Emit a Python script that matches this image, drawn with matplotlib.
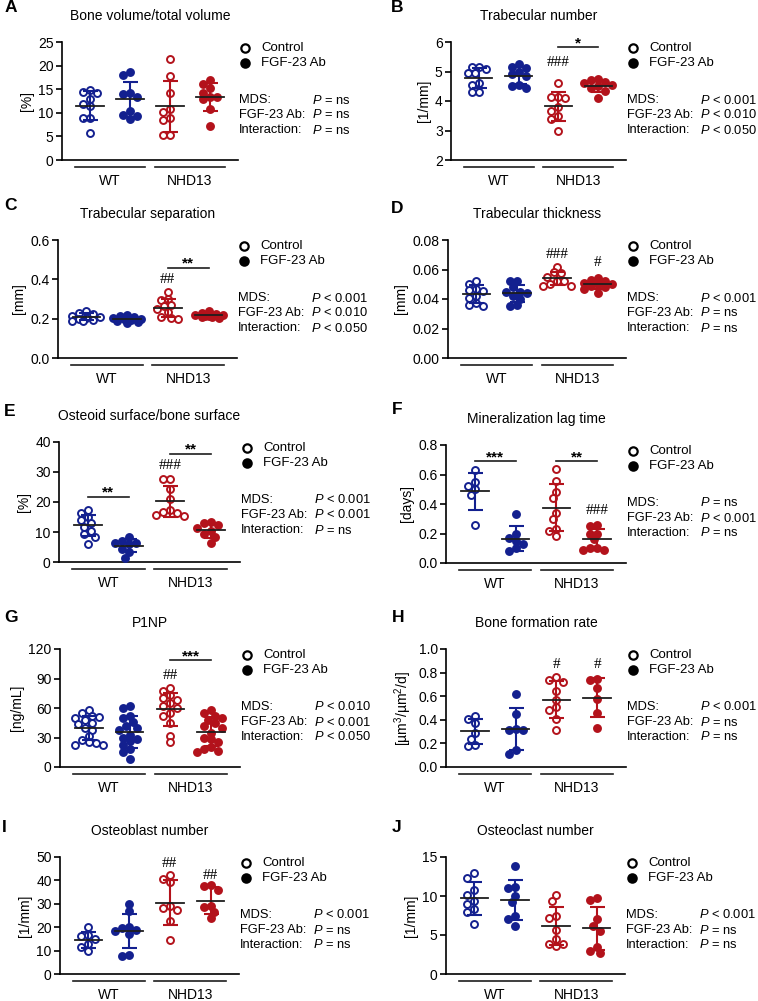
import numpy as np
import matplotlib.pyplot as plt

plt.rcParams['font.family'] = ['Liberation Sans', 'DejaVu Sans']
plt.rcParams['mathtext.fontset'] = 'custom'
plt.rcParams['mathtext.it'] = 'Liberation Sans:italic'
plt.rcParams['mathtext.rm'] = 'Liberation Sans'
plt.rcParams['font.size'] = 10

BLUE = '#13208f'
RED = '#b3121b'
DARK = '#1e1e1e'

groups = ['WT', 'NHD13']
legend_labels = ['Control', 'FGF-23 Ab']
stat_names = ['MDS:', 'FGF-23 Ab:', 'Interaction:']

# A  bone volume / total volume [%]
a_wt_ctrl = [14.3, 14.4, 14.8, 12.9, 11.8, 11.4, 9.0, 9.0, 5.8]
a_wt_ab = [18.1, 18.6, 14.0, 14.1, 13.4, 9.6, 8.6, 9.3, 10.3]
a_nhd_ctrl = [21.3, 17.8, 14.3, 10.2, 10.7, 9.0, 8.4, 5.2, 5.2]
a_nhd_ab = [16.2, 16.9, 15.2, 13.4, 13.3, 14.3, 12.9, 10.7, 7.2]
a_stats = ['= ns', '= ns', '= ns']

# B  trabecular number [1/mm]
b_wt_ctrl = [5.15, 5.1, 5.15, 4.95, 4.95, 4.6, 4.55, 4.3, 4.3]
b_wt_ab = [5.25, 5.15, 5.12, 5.0, 4.9, 4.85, 4.55, 4.5, 4.45]
b_nhd_ctrl = [4.62, 4.15, 4.15, 4.1, 3.8, 3.65, 3.5, 3.4, 3.0]
b_nhd_ab = [4.75, 4.72, 4.65, 4.6, 4.55, 4.5, 4.45, 4.35, 4.1]
b_stats = ['< 0.001', '< 0.010', '< 0.050']

# C  trabecular separation [mm]
c_wt_ctrl = [0.24, 0.23, 0.225, 0.215, 0.21, 0.205, 0.2, 0.195, 0.19, 0.19]
c_wt_ab = [0.22, 0.215, 0.21, 0.205, 0.2, 0.2, 0.195, 0.19, 0.185, 0.18]
c_nhd_ctrl = [0.335, 0.3, 0.295, 0.27, 0.265, 0.25, 0.235, 0.21, 0.205, 0.198]
c_nhd_ab = [0.24, 0.23, 0.225, 0.22, 0.22, 0.215, 0.215, 0.21, 0.21, 0.205]
c_stats = ['< 0.001', '< 0.010', '< 0.050']

# D  trabecular thickness [mm]
d_wt_ctrl = [0.052, 0.0505, 0.046, 0.047, 0.0455, 0.042, 0.0405, 0.037, 0.036, 0.035]
d_wt_ab = [0.052, 0.052, 0.048, 0.045, 0.045, 0.044, 0.042, 0.04, 0.036, 0.035]
d_nhd_ctrl = [0.062, 0.058, 0.0575, 0.055, 0.0525, 0.0525, 0.05, 0.049, 0.049]
d_nhd_ab = [0.054, 0.053, 0.052, 0.051, 0.0505, 0.05, 0.049, 0.048, 0.047, 0.044]
d_stats = ['< 0.001', '= ns', '= ns']

# E  osteoid surface / bone surface [%]
e_wt_ctrl = [17.4, 16.3, 15.0, 14.0, 13.0, 11.7, 10.5, 9.5, 8.5, 6.1]
e_wt_ab = [8.3, 7.0, 6.5, 6.3, 6.0, 4.5, 3.5, 1.4]
e_nhd_ctrl = [27.8, 27.8, 24.4, 21.1, 17.4, 16.7, 16.2, 15.8, 15.5]
e_nhd_ab = [13.5, 13.0, 12.3, 11.5, 10.5, 9.5, 8.5, 6.2]
e_stats = ['< 0.001', '< 0.001', '= ns']

# F  mineralization lag time [days]
f_wt_ctrl = [0.63, 0.55, 0.52, 0.5, 0.46, 0.26]
f_wt_ab = [0.33, 0.2, 0.17, 0.15, 0.13, 0.1, 0.08]
f_nhd_ctrl = [0.64, 0.555, 0.48, 0.44, 0.34, 0.3, 0.23, 0.22, 0.18]
f_nhd_ab = [0.26, 0.25, 0.2, 0.2, 0.16, 0.1, 0.1, 0.09, 0.09]
f_stats = ['= ns', '< 0.001', '= ns']

# G  P1NP [ng/mL]
g_wt_ctrl = [58, 55, 52, 51, 50, 48, 45, 40, 38, 44, 32, 27, 25, 22, 24, 22]
g_wt_ab = [62, 60, 52, 50, 46, 42, 40, 38, 33, 30, 28, 26, 22, 18, 15, 8]
g_nhd_ctrl = [80, 77, 73, 70, 68, 65, 62, 60, 55, 52, 45, 32, 25]
g_nhd_ab = [58, 55, 52, 50, 48, 45, 42, 40, 35, 30, 28, 25, 20, 18, 16, 15]
g_stats = ['< 0.010', '< 0.001', '< 0.050']

# H  bone formation rate [um3/um2/d]
h_wt_ctrl = [0.43, 0.41, 0.37, 0.29, 0.24, 0.19, 0.18]
h_wt_ab = [0.62, 0.45, 0.32, 0.31, 0.31, 0.14, 0.11]
h_nhd_ctrl = [0.76, 0.74, 0.72, 0.64, 0.57, 0.51, 0.48, 0.41, 0.31]
h_nhd_ab = [0.75, 0.74, 0.67, 0.58, 0.46, 0.33]
h_stats = ['< 0.001', '= ns', '= ns']

# I  osteoblast number [1/mm]
i_wt_ctrl = [20.2, 16.8, 16.2, 15.0, 13.0, 11.5, 10.0]
i_wt_ab = [29.8, 27.0, 20.0, 19.5, 18.5, 19.0, 17.0, 8.3, 7.5]
i_nhd_ctrl = [42.5, 40.5, 39.5, 29.0, 28.0, 27.5, 22.5, 14.5]
i_nhd_ab = [38.0, 37.5, 36.0, 29.0, 28.5, 26.5, 24.0]
i_stats = ['< 0.001', '= ns', '= ns']

# J  osteoclast number [1/mm]
j_wt_ctrl = [13.0, 12.3, 10.8, 10.1, 9.3, 9.0, 8.3, 8.0, 6.4]
j_wt_ab = [13.8, 11.1, 11.0, 10.0, 9.2, 7.4, 7.1, 6.1]
j_nhd_ctrl = [10.1, 9.3, 7.4, 7.2, 5.6, 4.5, 3.9, 3.8, 3.6]
j_nhd_ab = [9.7, 9.5, 7.0, 6.2, 5.5, 3.5, 2.9, 2.7]
j_stats = ['< 0.001', '= ns', '= ns']

panels = [
    dict(letter='A', title='Bone volume/total volume', ylabel='[%]',
         ylim=(0, 25), ticks=[0, 5, 10, 15, 20, 25], fmt='{:.0f}',
         data=[a_wt_ctrl, a_wt_ab, a_nhd_ctrl, a_nhd_ab], stats=a_stats,
         box=(62, 238, 42, 160), lpos=(5, 7), sig=[], hashes=[]),
    dict(letter='B', title='Trabecular number', ylabel='[1/mm]',
         ylim=(2, 6), ticks=[2, 3, 4, 5, 6], fmt='{:.0f}',
         data=[b_wt_ctrl, b_wt_ab, b_nhd_ctrl, b_nhd_ab], stats=b_stats,
         box=(451, 626, 42, 160), lpos=(391, 7),
         sig=[(2, 3, 5.83, '*')], hashes=[(2, 5.32, '###')]),
    dict(letter='C', title='Trabecular separation', ylabel='[mm]',
         ylim=(0, 0.6), ticks=[0, 0.2, 0.4, 0.6], fmt='{:.1f}',
         data=[c_wt_ctrl, c_wt_ab, c_nhd_ctrl, c_nhd_ab], stats=c_stats,
         box=(58, 237, 240, 358), lpos=(4, 206),
         sig=[(2, 3, 0.46, '**')], hashes=[(2, 0.397, '##')]),
    dict(letter='D', title='Trabecular thickness', ylabel='[mm]',
         ylim=(0, 0.08), ticks=[0, 0.02, 0.04, 0.06, 0.08], fmt='{:.2f}',
         data=[d_wt_ctrl, d_wt_ab, d_nhd_ctrl, d_nhd_ab], stats=d_stats,
         box=(448, 626, 240, 358), lpos=(391, 208),
         sig=[], hashes=[(2, 0.0699, '###'), (3, 0.0647, '#')]),
    dict(letter='E', title='Osteoid surface/bone surface', ylabel='[%]',
         ylim=(0, 40), ticks=[0, 10, 20, 30, 40], fmt='{:.0f}',
         data=[e_wt_ctrl, e_wt_ab, e_nhd_ctrl, e_nhd_ab], stats=e_stats,
         box=(59, 240, 442, 562), lpos=(4, 411),
         sig=[(0, 1, 21.7, '**'), (2, 3, 36.1, '**')], hashes=[(2, 32.2, '###')]),
    dict(letter='F', title='Mineralization lag time', ylabel='[days]',
         ylim=(0, 0.8), ticks=[0, 0.2, 0.4, 0.6, 0.8], fmt='{:.1f}',
         data=[f_wt_ctrl, f_wt_ab, f_nhd_ctrl, f_nhd_ab], stats=f_stats,
         box=(446, 626, 445, 563), lpos=(392, 410),
         sig=[(0, 1, 0.691, '***'), (2, 3, 0.691, '**')], hashes=[(3, 0.358, '###')]),
    dict(letter='G', title='P1NP', ylabel='[ng/mL]',
         ylim=(0, 120), ticks=[0, 30, 60, 90, 120], fmt='{:.0f}',
         data=[g_wt_ctrl, g_wt_ab, g_nhd_ctrl, g_nhd_ab], stats=g_stats,
         box=(60, 240, 649, 767), lpos=(4, 617),
         sig=[(2, 3, 108.4, '***')], hashes=[(2, 92.7, '##')]),
    dict(letter='H', title='Bone formation rate', ylabel='[µm$^3$/µm$^2$/d]',
         ylim=(0, 1.0), ticks=[0, 0.2, 0.4, 0.6, 0.8, 1.0], fmt='{:.1f}',
         data=[h_wt_ctrl, h_wt_ab, h_nhd_ctrl, h_nhd_ab], stats=h_stats,
         box=(446, 626, 649, 767), lpos=(392, 617),
         sig=[], hashes=[(2, 0.866, '#'), (3, 0.866, '#')]),
    dict(letter='I', title='Osteoblast number', ylabel='[1/mm]',
         ylim=(0, 50), ticks=[0, 10, 20, 30, 40, 50], fmt='{:.0f}',
         data=[i_wt_ctrl, i_wt_ab, i_nhd_ctrl, i_nhd_ab], stats=i_stats,
         box=(60, 239, 857, 974), lpos=(2, 827),
         sig=[], hashes=[(2, 47.4, '##'), (3, 42.0, '##')]),
    dict(letter='J', title='Osteoclast number', ylabel='[1/mm]',
         ylim=(0, 15), ticks=[0, 5, 10, 15], fmt='{:.0f}',
         data=[j_wt_ctrl, j_wt_ab, j_nhd_ctrl, j_nhd_ab], stats=j_stats,
         box=(446, 625, 857, 974), lpos=(392, 827), sig=[], hashes=[]),
]


def swarm(vals, ppu_y, ppu_x, dist=6.5, step=3.5, max_off=14.0):
    # simple beeswarm in pixels: nearest free slot, least-overlap slot if crowded
    order = np.argsort(vals)[::-1]
    placed = []
    offs = np.zeros(len(vals))
    nk = int(max_off // step)
    cands = [0.0]
    for k in range(1, nk + 1):
        cands += [-k * step, k * step]
    for i in order:
        y = vals[i] * ppu_y
        best, best_d = 0.0, -1.0
        for c in cands:
            d = min([np.hypot(c - px, y - py) for px, py in placed] + [1e9])
            if d >= dist:
                best = c
                break
            if d > best_d + 0.5:
                best, best_d = c, d
        placed.append((best, y))
        offs[i] = best / ppu_x
    return offs


W, H = 758, 1001
fig = plt.figure(figsize=(W / 100, H / 100), dpi=100)

for p in panels:
    x0, x1, top, bot = p['box']
    wpx, hpx = x1 - x0, bot - top
    ax = fig.add_axes([x0 / W, 1 - bot / H, wpx / W, hpx / H])
    ax.set_xlim(-0.7, 3.7)
    ax.set_ylim(*p['ylim'])
    for s in ['top', 'right']:
        ax.spines[s].set_visible(False)
    for s in ['left', 'bottom']:
        ax.spines[s].set_linewidth(1.2)
    ax.set_xticks([])
    ax.set_yticks(p['ticks'])
    ax.set_yticklabels([p['fmt'].format(t) for t in p['ticks']])
    ax.tick_params(axis='y', length=4, width=1.2, pad=2, labelsize=10)
    ax.set_ylabel(p['ylabel'], fontsize=10, labelpad=3)

    ppu_y = hpx / (p['ylim'][1] - p['ylim'][0])
    ppu_x = wpx / 4.4
    for i, vals in enumerate(p['data']):
        vals = np.array(vals, dtype=float)
        col = BLUE if i < 2 else RED
        face = 'white' if i % 2 == 0 else col
        offs = swarm(vals - p['ylim'][0], ppu_y, ppu_x)
        ax.plot(i + offs, vals, 'o', ms=5, mfc=face, mec=col, mew=1.4,
                ls='none', zorder=3, clip_on=False)
        m, sd = vals.mean(), vals.std(ddof=1)
        ax.errorbar(i, m, yerr=sd, color=col, lw=1.5, capsize=5.4,
                    capthick=1.5, zorder=4)
        ax.plot([i - 0.34, i + 0.34], [m, m], color=DARK, lw=1.3, zorder=5)

    # group lines and labels under the axis
    tr = ax.get_xaxis_transform()
    for g, (a, b) in zip(groups, [(-0.38, 1.38), (1.62, 3.38)]):
        ax.plot([a, b], [-7 / hpx] * 2, transform=tr, color=DARK, lw=1.2,
                clip_on=False)
        ax.text((a + b) / 2, -21 / hpx, g, transform=tr, ha='center',
                va='center', fontsize=10)

    # title
    ax.text(0.5, 1 + 26 / hpx, p['title'], transform=ax.transAxes,
            ha='center', va='center', fontsize=10)

    # legend
    for k, lab in enumerate(legend_labels):
        yy = 1 - (6 + 15 * k) / hpx
        ax.plot([1 + 7 / wpx], [yy], 'o', transform=ax.transAxes, ms=6,
                mfc='white' if k == 0 else 'black', mec='black', mew=1.6,
                clip_on=False)
        ax.text(1 + 23 / wpx, yy, lab, transform=ax.transAxes, va='center',
                fontsize=9.5)

    # two-way ANOVA results
    for k, (name, rel) in enumerate(zip(stat_names, p['stats'])):
        yy = 1 - (58 + 15 * k) / hpx
        ax.text(1 + 1 / wpx, yy, name, transform=ax.transAxes, va='center',
                fontsize=9.3)
        ax.text(1 + 74 / wpx, yy, '$P$ ' + rel, transform=ax.transAxes,
                va='center', fontsize=9.3)

    for c1, c2, y, stars in p['sig']:
        ax.plot([c1, c2], [y, y], color=DARK, lw=1.2, clip_on=False)
        ax.text((c1 + c2) / 2, y, stars, ha='center', va='baseline',
                fontsize=11, fontweight='bold')
    for c, y, h in p['hashes']:
        ax.text(c, y, h, ha='center', va='center', fontsize=11,
                fontfamily='Liberation Serif')

    fig.text(p['lpos'][0] / W, 1 - p['lpos'][1] / H, p['letter'],
             fontweight='bold', fontsize=12.5, va='center', ha='left')

fig.savefig('out.png', dpi=100)
